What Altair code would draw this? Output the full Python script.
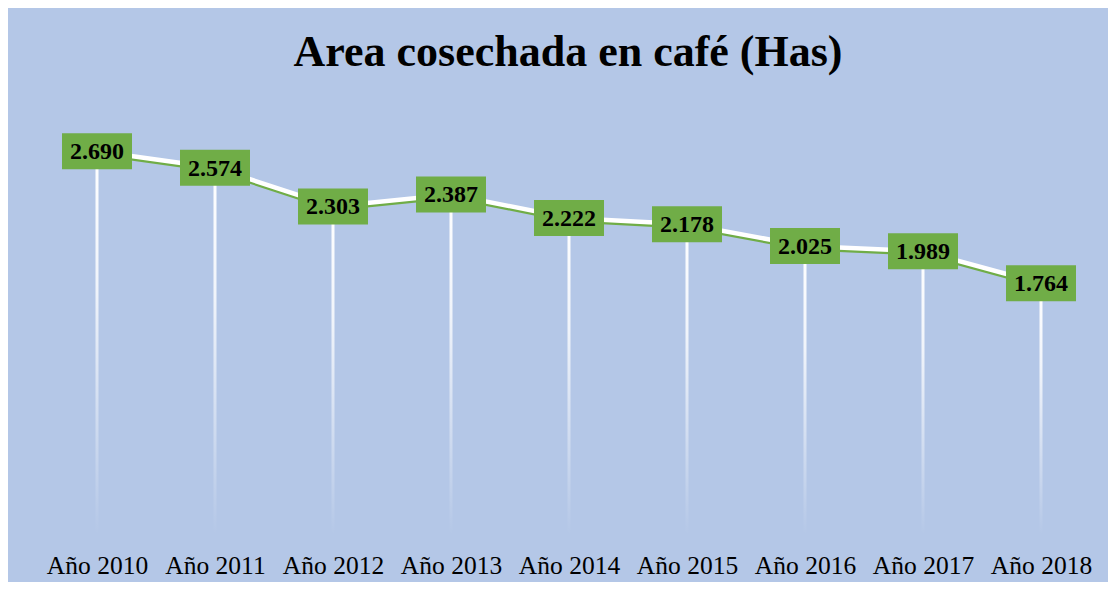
import altair as alt
import pandas as pd

years = ["Año 2010", "Año 2011", "Año 2012", "Año 2013", "Año 2014",
         "Año 2015", "Año 2016", "Año 2017", "Año 2018"]
areas = [2.690, 2.574, 2.303, 2.387, 2.222, 2.178, 2.025, 1.989, 1.764]
labels = ["2.690", "2.574", "2.303", "2.387", "2.222", "2.178", "2.025", "1.989", "1.764"]

df = pd.DataFrame({"year": years, "area": areas, "label": labels})

GREEN = "#70AD47"
BG = "#B4C7E7"
SERIF = "Liberation Serif"

x = alt.X(
    "year:N", sort=years,
    scale=alt.Scale(type="point", padding=0.5),
    axis=alt.Axis(title=None, labelAngle=0, labelFont=SERIF, labelFontSize=25.5,
                  labelColor="black", ticks=False, domain=False, grid=False,
                  labelPadding=18),
)
y = alt.Y("area:Q", scale=alt.Scale(domain=[0, 3], nice=False, zero=True), axis=None)

base = alt.Chart(df)

drops = base.mark_bar(
    width=3,
    color=alt.Gradient(
        gradient="linear", x1=0, x2=0, y1=0, y2=1,
        stops=[alt.GradientStop(offset=0, color="rgba(255,255,255,1)"),
               alt.GradientStop(offset=0.35, color="rgba(255,255,255,0.8)"),
               alt.GradientStop(offset=1, color="rgba(255,255,255,0)")],
    ),
).encode(x=x, y=y, y2=alt.datum(0))

green_line = base.mark_line(color=GREEN, strokeWidth=4, yOffset=2.5).encode(x=x, y=y)
white_line = base.mark_line(color="white", strokeWidth=4.5).encode(x=x, y=y)

boxes = base.mark_point(
    shape="M-1,-0.514L1,-0.514L1,0.514L-1,0.514Z", size=4900, filled=True,
    fill=GREEN, opacity=1, strokeWidth=0,
).encode(x=x, y=y)

texts = base.mark_text(
    font=SERIF, fontSize=24, fontWeight="bold", color="black", baseline="middle", dy=1
).encode(x=x, y=y, text="label:N")

chart = alt.layer(drops, green_line, white_line, boxes, texts).properties(
    width=1062, height=428,
    title=alt.TitleParams("Area cosechada en café (Has)", font=SERIF, fontSize=44,
                          fontWeight="bold", color="black", anchor="middle", offset=32,
                          dx=-1),
    autosize=alt.AutoSizeParams(type="none"),
    padding={"left": 30, "right": 8, "top": 99, "bottom": 47},
    background=BG,
).configure_view(stroke=None)

chart.save("out.html", embed_options={"renderer": "svg", "actions": False})
